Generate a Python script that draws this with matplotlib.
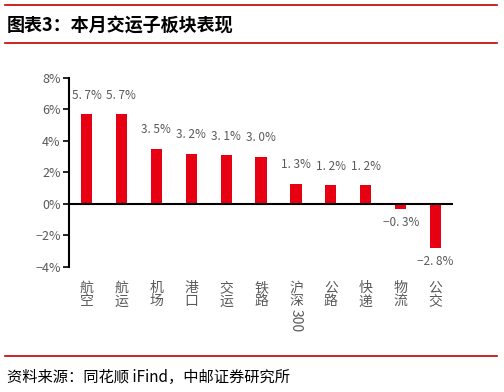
import matplotlib
matplotlib.use('Agg')
import matplotlib.pyplot as plt
from matplotlib.lines import Line2D

plt.rcParams['font.family'] = ['Noto Sans CJK SC', 'DejaVu Sans']
plt.rcParams['axes.unicode_minus'] = False

# data
categories = ['航空', '航运', '机场', '港口', '交运', '铁路', '沪深300', '公路', '快递', '物流', '公交']
returns = [5.7, 5.7, 3.5, 3.2, 3.1, 3.0, 1.3, 1.2, 1.2, -0.3, -2.8]
yticks = [-4, -2, 0, 2, 4, 6, 8]

bar_color = '#E60012'
text_gray = '#595959'
rule_red = '#C00000'

fig = plt.figure(figsize=(5.04, 3.92), dpi=100)
ax = fig.add_axes([0.137, 0.319, 0.762, 0.482])

x = list(range(len(categories)))
ax.bar(x, returns, width=0.32, color=bar_color, zorder=2)
ax.axhline(0, color='black', linewidth=1.5, zorder=3)

for xi, v in zip(x, returns):
    label = f"{v:.1f}%".replace('.', '. ').replace('-', '−')
    if v >= 0:
        ax.annotate(label, (xi, v), xytext=(0, 9), textcoords='offset points',
                    ha='center', va='bottom', fontsize=8.5, color=text_gray)
    else:
        ax.annotate(label, (xi, v), xytext=(0, -5), textcoords='offset points',
                    ha='center', va='top', fontsize=8.5, color=text_gray)

ax.set_xlim(-0.5, len(categories) - 0.5)
ax.set_ylim(-4, 8)
ax.set_yticks(yticks)
ax.set_yticklabels([f"{t}%".replace('-', '−') for t in yticks], fontsize=9, color=text_gray)

# vertical category labels (chinese chars stacked, digits rotated)
xlabels = []
for c in categories:
    han = ''.join(ch for ch in c if not ch.isdigit())
    xlabels.append('\n'.join(han))
ax.set_xticks(x)
ax.set_xticklabels(xlabels, fontsize=10, color=text_gray, linespacing=0.95)
ax.tick_params(axis='x', length=0, pad=10)
for xi, c in zip(x, categories):
    digits = ''.join(ch for ch in c if ch.isdigit())
    if digits:
        ax.annotate(digits, (xi, -4), xytext=(0, -30), textcoords='offset points',
                    ha='center', va='top', rotation=-90, fontsize=10, color=text_gray)

ax.tick_params(axis='y', direction='out', length=4, width=1.2, color='black', pad=2)
for s in ['top', 'right', 'bottom']:
    ax.spines[s].set_visible(False)
ax.spines['left'].set_linewidth(1.5)
ax.spines['left'].set_color('black')

# header / footer rules and text
for yy in [0.987, 0.890, 0.092]:
    fig.add_artist(Line2D([0.01, 0.986], [yy, yy], color=rule_red, linewidth=1.2))
fig.text(0.014, 0.937, '图表3：本月交运子板块表现', fontsize=13, fontweight='bold',
         color='black', va='center', ha='left')
fig.text(0.014, 0.038, '资料来源：同花顺 iFind，中邮证券研究所', fontsize=11,
         color='black', va='center', ha='left')

fig.savefig('out.png', dpi=100)
plt.close(fig)
